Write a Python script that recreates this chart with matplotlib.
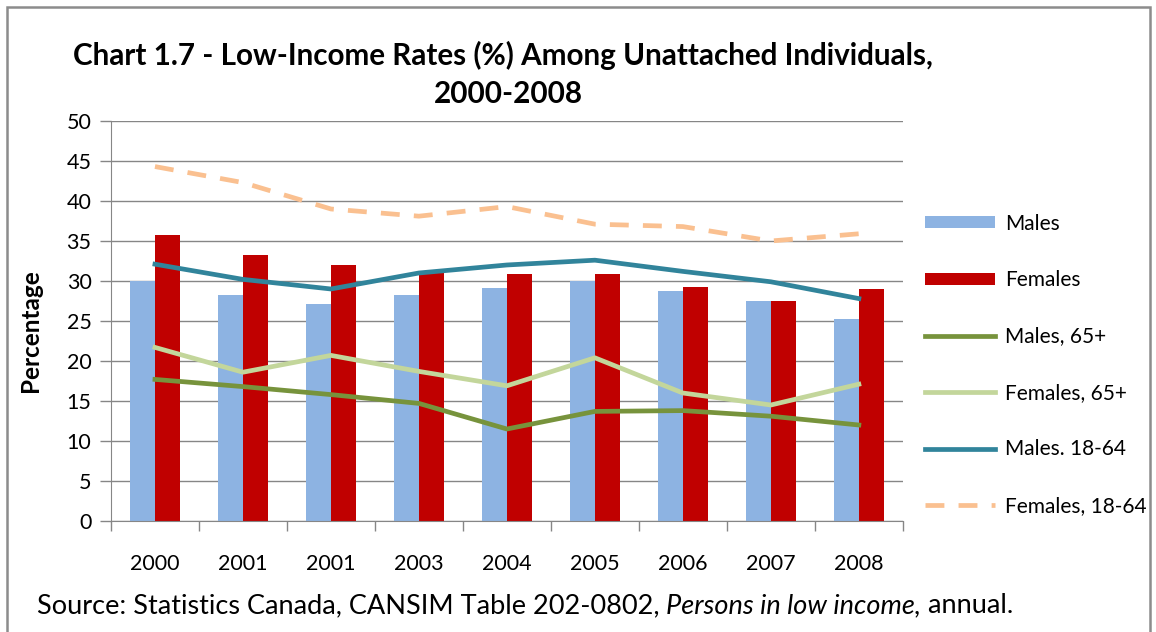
import matplotlib
matplotlib.use('Agg')
import matplotlib.pyplot as plt
import numpy as np
from matplotlib.patches import Rectangle, Patch
from matplotlib.lines import Line2D

plt.rcParams['font.family'] = ['Lato', 'DejaVu Sans']

years = ['2000', '2001', '2001', '2003', '2004', '2005', '2006', '2007', '2008']
males = [30.0, 28.3, 27.1, 28.3, 29.1, 30.0, 28.8, 27.5, 25.3]
females = [35.7, 33.3, 32.0, 31.0, 30.9, 30.9, 29.3, 27.5, 29.0]
males_65 = [17.7, 16.8, 15.8, 14.7, 11.5, 13.7, 13.8, 13.1, 12.0]
females_65 = [21.7, 18.6, 20.7, 18.7, 16.9, 20.4, 16.0, 14.5, 17.1]
males_18_64 = [32.1, 30.2, 29.0, 31.0, 32.0, 32.6, 31.2, 29.9, 27.8]
females_18_64 = [44.3, 42.3, 39.0, 38.1, 39.3, 37.1, 36.8, 35.0, 35.9]

fig = plt.figure(figsize=(11.56, 6.32), dpi=100)
ax = fig.add_axes([0.096, 0.1756, 0.685, 0.633])

x = np.arange(len(years))
w = 0.285
ax.bar(x - w / 2, males, w, color='#8DB3E2', zorder=2)
ax.bar(x + w / 2, females, w, color='#C00000', zorder=2)

lw = 3.4
ax.plot(x, males_65, color='#77933C', lw=lw, zorder=3)
ax.plot(x, females_65, color='#C3D69B', lw=lw, zorder=3)
ax.plot(x, males_18_64, color='#31849B', lw=lw, zorder=3)
ax.plot(x, females_18_64, color='#FAC090', lw=lw, dashes=(4, 3), zorder=3)

ax.set_xlim(-0.5, len(years) - 0.5)
ax.set_ylim(0, 50)
ax.set_yticks(np.arange(0, 51, 5))
ax.set_xticks(x)
ax.set_xticklabels(years)
ax.set_xticks(np.arange(-0.5, len(years), 1), minor=True)
ax.tick_params(axis='x', which='major', length=0, pad=24, labelsize=15.5)
ax.tick_params(axis='x', which='minor', length=7, color='#868686', width=1)
ax.tick_params(axis='y', length=8, color='#868686', width=1, labelsize=15.5, pad=6)
ax.grid(axis='y', color='#868686', lw=1, zorder=0)
ax.set_axisbelow(True)
for s in ['top', 'right']:
    ax.spines[s].set_visible(False)
for s in ['left', 'bottom']:
    ax.spines[s].set_color('#868686')
ax.set_ylabel('Percentage', fontsize=17.5, fontweight='bold', va='center')
ax.yaxis.set_label_coords(-0.102, 0.475)

handles = [
    Patch(facecolor='#8DB3E2'),
    Patch(facecolor='#C00000'),
    Line2D([], [], color='#77933C', lw=lw),
    Line2D([], [], color='#C3D69B', lw=lw),
    Line2D([], [], color='#31849B', lw=lw),
    Line2D([], [], color='#FAC090', lw=lw, dashes=(4, 3)),
]
labels = ['Males', 'Females', 'Males, 65+', 'Females, 65+', 'Males. 18-64', 'Females, 18-64']
fig.legend(handles, labels, loc='center left', bbox_to_anchor=(0.784, 0.423),
           frameon=False, fontsize=15, handlelength=3.35, handleheight=0.5,
           labelspacing=1.75, handletextpad=0.5)

fig.text(0.435, 0.912, 'Chart 1.7 - Low-Income Rates (%) Among Unattached Individuals,',
         ha='center', va='center', fontsize=21.3, fontweight='bold')
fig.text(0.44, 0.852, '2000-2008', ha='center', va='center', fontsize=21.3, fontweight='bold')

# source line: plain + italic + plain pieces placed end to end
renderer = fig.canvas.get_renderer()
xpos = 0.032
for piece, st in [('Source: Statistics Canada, CANSIM Table 202-0802, ', 'normal'),
                  ('Persons in low income,', 'italic'),
                  (' annual.', 'normal')]:
    t = fig.text(xpos, 0.042, piece, ha='left', va='center', fontsize=19.5, style=st)
    xpos = t.get_window_extent(renderer=renderer).x1 / fig.bbox.width

fig.add_artist(Rectangle((7 / 1156, -0.05), 1143 / 1156, 1 - 7 / 632 + 0.05,
                         transform=fig.transFigure, fill=False, edgecolor='#8C8C8C', lw=1.8))

fig.savefig('out.png', dpi=100)
